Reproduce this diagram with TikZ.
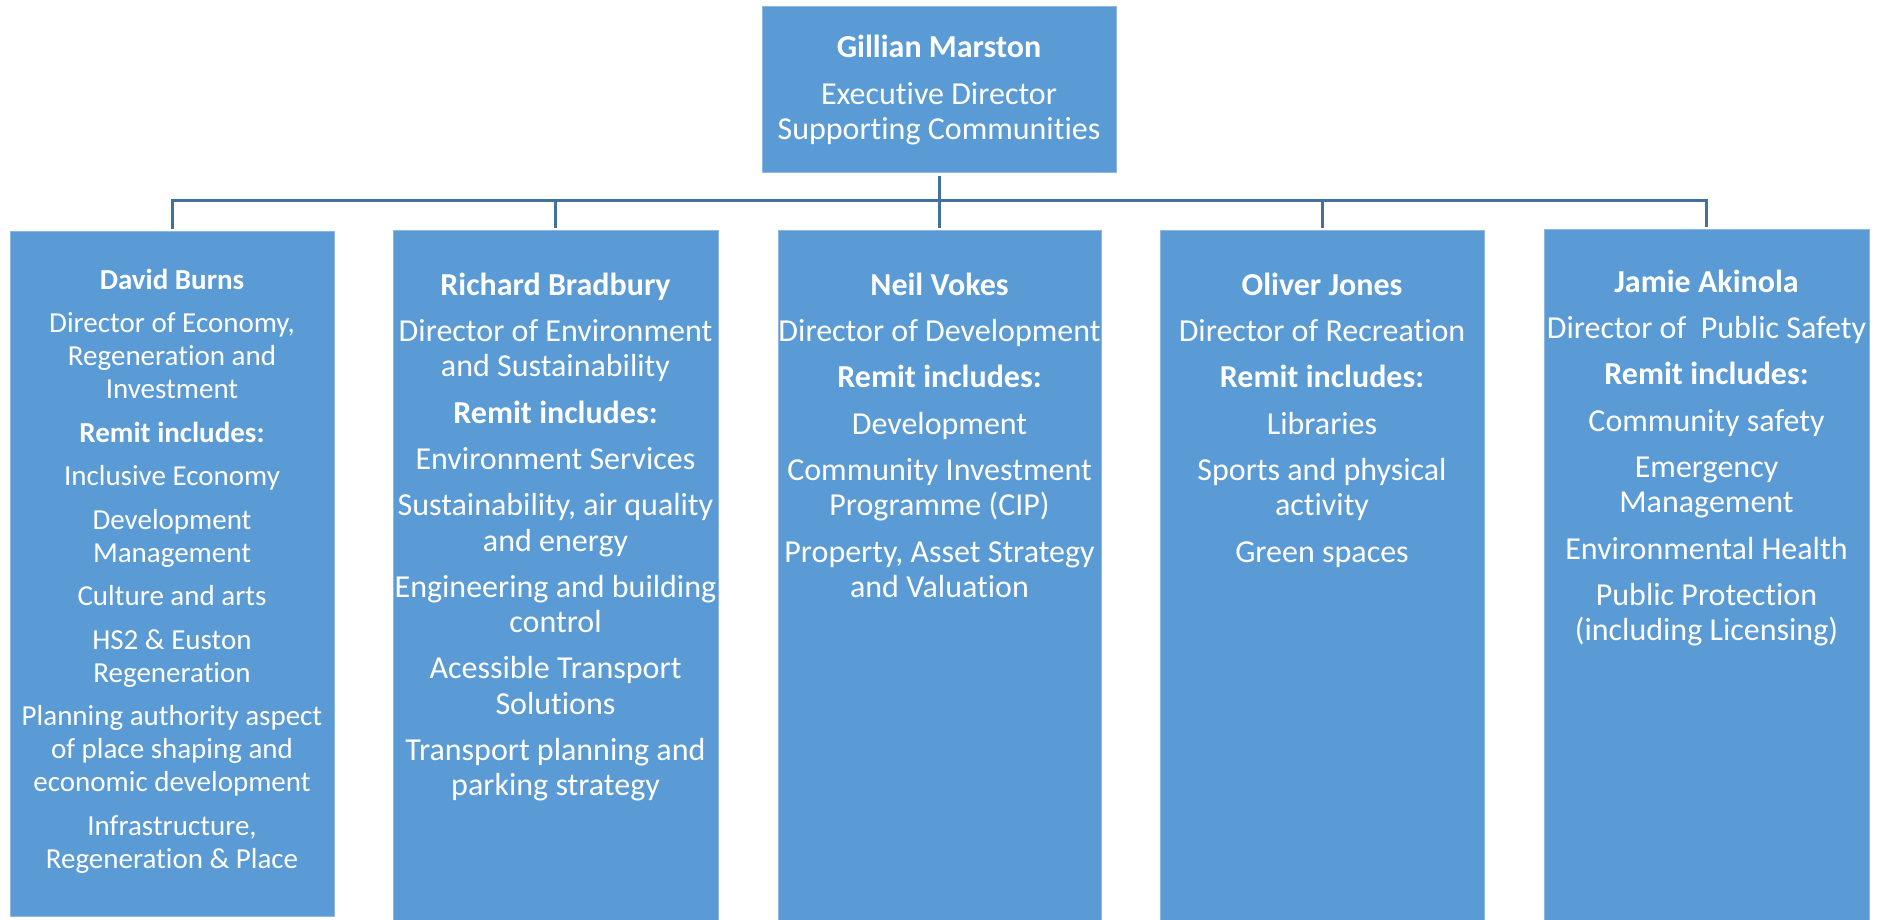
\documentclass[tikz,border=0pt]{standalone}
\usepackage{fontspec}
\setmainfont{Carlito}[Ligatures={TeX,CommonOff}]
\definecolor{boxblue}{HTML}{5B9BD5}
\definecolor{linkblue}{HTML}{41719C}
\definecolor{edgeblue}{HTML}{8DB6E2}
\newcommand{\topstrut}{\rule{0pt}{30pt}}
\begin{document}
\begin{tikzpicture}[x=1pt,y=-1pt,
  orgbox/.style={draw=edgeblue, line width=0.8pt, fill=boxblue, inner sep=0pt, anchor=north west},
  txt/.style={text=white, align=center, anchor=north, inner sep=0pt},
  bigtxt/.style={font=\fontsize{32}{35.3}\selectfont},
  smalltxt/.style={font=\fontsize{29}{33}\selectfont},
  link/.style={draw=linkblue, line width=3pt}]
\useasboundingbox (0,0) rectangle (1885,919);

% boxes
\node[orgbox, minimum width=354pt, minimum height=166pt] (gm) at (762,6) {};
\node[orgbox, minimum width=324pt, minimum height=685pt] (db) at (10,231) {};
\node[orgbox, minimum width=325pt, minimum height=700pt] (rb) at (393,230) {};
\node[orgbox, minimum width=323pt, minimum height=700pt] (nv) at (778,230) {};
\node[orgbox, minimum width=324pt, minimum height=700pt] (oj) at (1160,230) {};
\node[orgbox, minimum width=325pt, minimum height=700pt] (ja) at (1544,229) {};

% texts (node top = first baseline - 30pt)
\node[txt, bigtxt] (gmt) at (939,27) {\topstrut\textbf{Gillian Marston}\\[12pt]Executive Director\\Supporting Communities};

\node[txt, smalltxt] (dbt) at (172,259) {\topstrut\textbf{David Burns}\\[10.5pt]Director of Economy,\\Regeneration and\\Investment\\[10.5pt]\textbf{Remit includes:}\\[10.5pt]Inclusive Economy\\[10.5pt]Development\\Management\\[10.5pt]Culture and arts\\[10.5pt]HS2 \& Euston\\Regeneration\\[10.5pt]Planning authority aspect\\of place shaping and\\economic development\\[10.5pt]Infrastructure,\\Regeneration \& Place};

\node[txt, bigtxt] (rbt) at (555.5,265) {\topstrut\textbf{Richard Bradbury}\\[11pt]Director of Environment\\and Sustainability\\[11pt]\textbf{Remit includes:}\\[11pt]Environment Services\\[11pt]Sustainability, air quality\\and energy\\[11pt]Engineering and building\\control\\[11pt]Acessible Transport\\Solutions\\[11pt]Transport planning and\\parking strategy};

\node[txt, bigtxt] (nvt) at (939.5,265) {\topstrut\textbf{Neil Vokes}\\[11pt]Director of Development\\[11pt]\textbf{Remit includes:}\\[11pt]Development\\[11pt]Community Investment\\Programme (CIP)\\[11pt]Property, Asset Strategy\\and Valuation};

\node[txt, bigtxt] (ojt) at (1322,265) {\topstrut\textbf{Oliver Jones}\\[11pt]Director of Recreation\\[11pt]\textbf{Remit includes:}\\[11pt]Libraries\\[11pt]Sports and physical\\activity\\[11pt]Green spaces};

\node[txt, bigtxt] (jat) at (1706.5,262) {\topstrut\textbf{Jamie Akinola}\\[11pt]Director of\ \ Public Safety\\[11pt]\textbf{Remit includes:}\\[11pt]Community safety\\[11pt]Emergency\\Management\\[11pt]Environmental Health\\[11pt]Public Protection\\(including Licensing)};

% connectors
\coordinate (bus) at (939,200);
\draw[link] ([yshift=-3pt]gm.south) -- (gm.south |- bus);
\draw[link] ([yshift=2pt]db.north) |- (ja.north |- bus) -- ([yshift=2pt]ja.north);
\draw[link] ([yshift=2pt]rb.north) -- (rb.north |- bus);
\draw[link] ([yshift=2pt]nv.north) -- (nv.north |- bus);
\draw[link] ([yshift=2pt]oj.north) -- (oj.north |- bus);
\end{tikzpicture}
\end{document}
